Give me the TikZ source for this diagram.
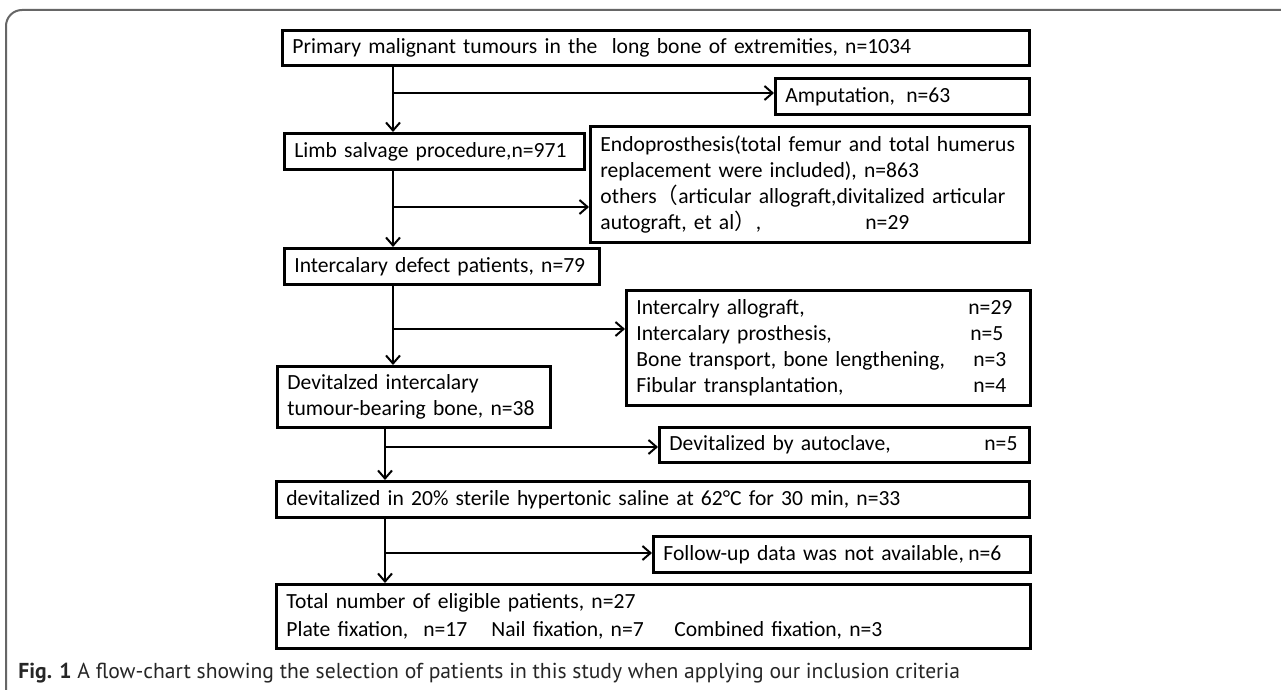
\documentclass[tikz,border=0pt]{standalone}
\usepackage{fontspec}
\setmainfont{Carlito}
\newfontfamily\capfont{PT Sans}
\newfontfamily\cjk{Noto Sans CJK SC}
\usetikzlibrary{arrows.meta}
\begin{document}
\begin{tikzpicture}[x=0.5pt,y=-0.5pt,
  box/.style={draw, line width=1.4pt, anchor=north west, inner xsep=5pt, inner ysep=0pt,
    align=left, font=\fontsize{10.8}{13}\selectfont},
  conn/.style={line width=1pt},
  arr/.style={conn, -{Straight Barb[length=4pt,width=7pt,line width=1pt]}},
  frame/.style={draw=black!60, line width=1pt, rounded corners=8pt},
  captext/.style={anchor=base west, inner sep=0pt, font=\capfont\fontsize{10.8}{12}\selectfont, text=black!85}]
\useasboundingbox (0,0) rectangle (1281,690);
\clip (0,0) rectangle (1281,690);
\fill[white] (0,0) rectangle (1281,690);
\draw[frame] (6,720) -- (6,10) -- (1320,10);

% boxes
\node[box, minimum width=373.5pt, minimum height=17.5pt, text width=363.5pt] (b1) at (281,29)
  {Primary malignant tumours in the\ \ long bone of extremities, n=1034};
\node[box, minimum width=127pt, minimum height=18pt, text width=117pt] (amp) at (774,77)
  {\makebox[60.5pt][l]{Amputation,}n=63};
\node[box, minimum width=150pt, minimum height=18pt, text width=140pt] (limb) at (283,132)
  {Limb salvage procedure,n=971};
\node[box, minimum width=219.5pt, minimum height=58pt, text width=209.5pt] (endo) at (589,125)
  {Endoprosthesis(total femur and total humerus\\
   replacement were included), n=863\\
   others{\cjk（}articular allograft,divitalized articular\\
   \makebox[132.5pt][l]{autograft, et al{\cjk）}, }n=29};
\node[box, minimum width=157.5pt, minimum height=18pt, text width=147.5pt] (inter) at (283,247)
  {Intercalary defect patients, n=79};
\node[box, minimum width=202pt, minimum height=57.5pt, text width=192pt] (intc) at (625,289)
  {\makebox[166pt][l]{Intercalry allograft,}n=29\\
   \makebox[167pt][l]{Intercalary prosthesis,}n=5\\
   \makebox[168.5pt][l]{Bone transport, bone lengthening,}n=3\\
   \makebox[168.5pt][l]{Fibular transplantation,}n=4};
\node[box, minimum width=136.5pt, minimum height=30.5pt, text width=126.5pt] (devit) at (276,365)
  {Devitalzed intercalary\\tumour-bearing bone, n=38};
\node[box, minimum width=185pt, minimum height=17.5pt, text width=175pt] (auto) at (658,426)
  {\makebox[157.5pt][l]{Devitalized by autoclave,}n=5};
\node[box, minimum width=376.5pt, minimum height=18pt, text width=366.5pt] (sal) at (275,480)
  {devitalized in 20\% sterile hypertonic saline at 62°C for 30 min, n=33};
\node[box, minimum width=188.5pt, minimum height=18pt, text width=178.5pt] (fol) at (652,535)
  {\makebox[152.5pt][l]{Follow-up data was not available,}n=6};
\node[box, minimum width=377pt, minimum height=32pt, text width=367pt,
  font=\fontsize{10.8}{14}\selectfont] (tot) at (275,583)
  {Total number of eligible patients, n=27\\
   \makebox[68.5pt][l]{Plate fixation,}\makebox[34pt][l]{n=17}\makebox[91.5pt][l]{Nail fixation, n=7}Combined fixation, n=3};

% caption
\node[captext] (capt) at (18,678) {\textbf{Fig. 1} A flow-chart showing the selection of patients in this study when applying our inclusion criteria};

% connectors
\coordinate (ta) at (393,0);
\coordinate (tb) at (385,0);
\coordinate (j1) at (393,93);
\coordinate (j2) at (393,207);
\coordinate (j3) at (393,329);
\coordinate (j4) at (385,447);
\coordinate (j5) at (385,553);
\draw[arr] (ta |- b1.south) -- (ta |- limb.north);
\draw[arr] (j1) -- (j1 -| amp.west);
\draw[arr] (ta |- limb.south) -- (ta |- inter.north);
\draw[arr] (j2) -- (j2 -| endo.west);
\draw[arr] (ta |- inter.south) -- (ta |- devit.north);
\draw[arr] (j3) -- (j3 -| intc.west);
\draw[arr] (tb |- devit.south) -- (tb |- sal.north);
\draw[arr] (j4) -- (j4 -| auto.west);
\draw[arr] (tb |- sal.south) -- (tb |- tot.north);
\draw[arr] (j5) -- (j5 -| fol.west);
\end{tikzpicture}
\end{document}
